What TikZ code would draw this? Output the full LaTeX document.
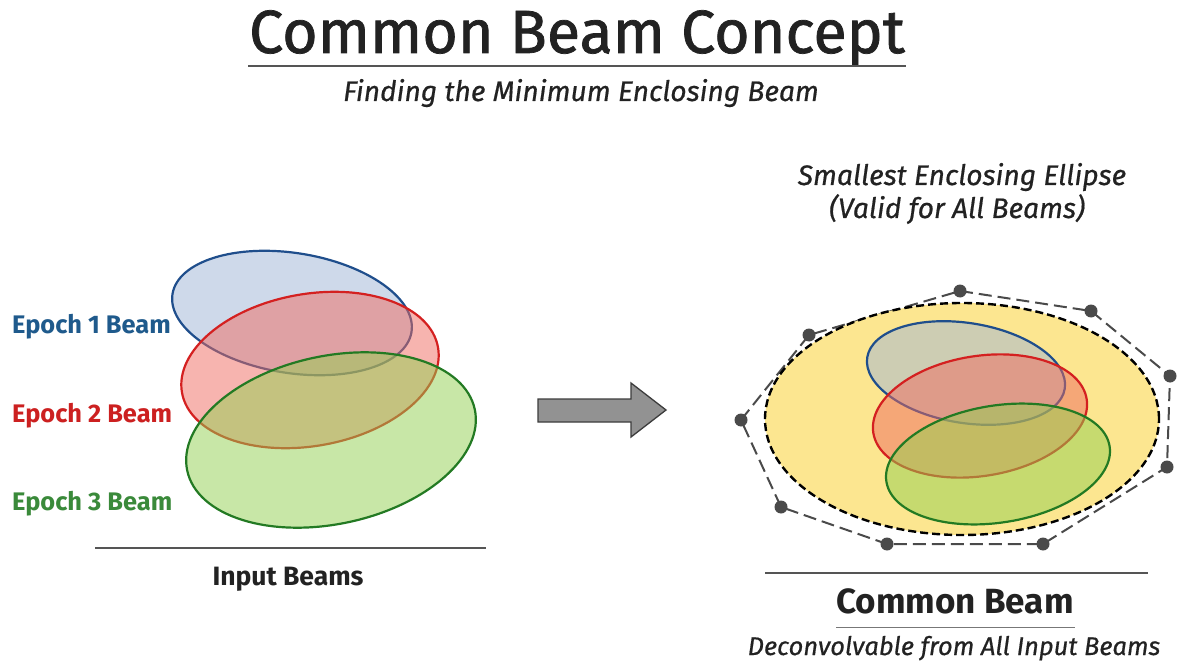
\documentclass[tikz,border=0pt]{standalone}
\usepackage{fontspec}
\setmainfont{Fira Sans}
\newfontfamily\titlefont{Fira Sans}[FakeBold=1.2]
\newfontfamily\itfont{Fira Sans}[FakeBold=0.6]
\usetikzlibrary{shapes.geometric}
\definecolor{bluestroke}{HTML}{1F4E8C}
\definecolor{bluefill}{HTML}{9FB5D6}
\definecolor{redstroke}{HTML}{D42020}
\definecolor{redfill}{HTML}{F06A60}
\definecolor{greenstroke}{HTML}{237A23}
\definecolor{greenfill}{HTML}{92D050}
\definecolor{bluetext}{HTML}{1F5A8C}
\definecolor{redtext}{HTML}{CC2020}
\definecolor{greentext}{HTML}{3A8A3A}
\definecolor{yellowfill}{HTML}{FCE690}
\definecolor{darktext}{HTML}{222222}
\definecolor{rulegray}{HTML}{555555}
\definecolor{dotgray}{HTML}{4A4A4A}
\definecolor{arrowfill}{HTML}{929292}
\definecolor{arrowline}{HTML}{3C3C3C}
\begin{document}
\begin{tikzpicture}[x=1pt,y=-1pt,
  beam/.style={ellipse, inner sep=0pt, outer sep=0pt, line width=2.2pt, fill opacity=0.5, draw opacity=1},
  beamA/.style={beam, draw=bluestroke, fill=bluefill},
  beamB/.style={beam, draw=redstroke, fill=redfill},
  beamC/.style={beam, draw=greenstroke, fill=greenfill},
  rule/.style={draw=rulegray, line width=1.4pt},
  dot/.style={circle, fill=dotgray, inner sep=0pt, minimum size=13pt},
  txt/.style={anchor=base, inner sep=0pt, text=darktext},
  lbl/.style={anchor=base west, inner sep=0pt, font=\fontsize{25.4}{29}\selectfont\bfseries}
]
\useasboundingbox (0,0) rectangle (1180,663);
\fill[white] (0,0) rectangle (1180,663);

% title
\node[txt, font=\titlefont\fontsize{61}{68}\selectfont] (title) at (577,53) {Common Beam Concept};
\draw[rule] (248,66) -- (906,66);
\node[txt, font=\itfont\fontsize{28.2}{32}\selectfont\itshape] (subtitle) at (581,101) {Finding the Minimum Enclosing Beam};

% left beams
\node[beamA, minimum width=242pt, minimum height=120pt, rotate=-9] (L1) at (292,313) {};
\node[beamB, minimum width=260pt, minimum height=152pt, rotate=10] (L2) at (310,370) {};
\node[beamC, minimum width=294pt, minimum height=168pt, rotate=12] (L3) at (331,440) {};

\node[lbl, text=bluetext] (e1) at (12,333) {Epoch 1 Beam};
\node[lbl, text=redtext] (e2) at (12,422) {Epoch 2 Beam};
\node[lbl, text=greentext] (e3) at (12,510) {Epoch 3 Beam};

\draw[rule] (95,548) -- (486,548);
\node[txt, font=\fontsize{26.5}{30}\selectfont\bfseries] (input) at (288,585) {Input Beams};

% arrow
\draw[fill=arrowfill, draw=arrowline, line width=1.3pt, line join=miter]
  (538,399) -- (631,399) -- (631,383) -- (666,410) -- (631,437) -- (631,422) -- (538,422) -- cycle;

% right side
\node[txt, font=\itfont\fontsize{28.2}{32}\selectfont\itshape] (sm1) at (962,185) {Smallest Enclosing Ellipse};
\node[txt, font=\itfont\fontsize{28.2}{32}\selectfont\itshape] (sm2) at (957,218) {(Valid for All Beams)};

\coordinate (p1) at (960,291);
\coordinate (p2) at (1091,311);
\coordinate (p3) at (1170,376);
\coordinate (p4) at (1167,467);
\coordinate (p5) at (1043,544);
\coordinate (p6) at (887,544);
\coordinate (p7) at (781,507);
\coordinate (p8) at (741,420);
\coordinate (p9) at (809,335);
\draw[draw=dotgray, line width=2pt, dash pattern=on 13pt off 6pt] (p1) -- (p2) -- (p3) -- (p4) -- (p5) -- (p6) -- (p7) -- (p8) -- (p9) -- cycle;
\foreach \i in {1,...,9} \node[dot] (d\i) at (p\i) {};

\node[ellipse, inner sep=0pt, fill=yellowfill, draw=black, line width=2.4pt, dash pattern=on 8pt off 4pt, minimum width=394pt, minimum height=232pt] (enc) at (962,419) {};

\node[beamA, minimum width=200pt, minimum height=100pt, rotate=-9] (R1) at (966,373) {};
\node[beamB, minimum width=216pt, minimum height=120pt, rotate=9] (R2) at (980,416) {};
\node[beamC, minimum width=226pt, minimum height=117pt, rotate=9] (R3) at (998,464) {};

\draw[rule] (765,573) -- (1148,573);
\node[txt, font=\fontsize{35}{40}\selectfont\bfseries] (cb) at (955,613) {Common Beam};
\draw[draw=rulegray!80, line width=1pt] (836,627) -- (1075,627);
\node[txt, font=\itfont\fontsize{25.5}{29}\selectfont\itshape] (dec) at (954,655) {Deconvolvable from All Input Beams};
\end{tikzpicture}
\end{document}
